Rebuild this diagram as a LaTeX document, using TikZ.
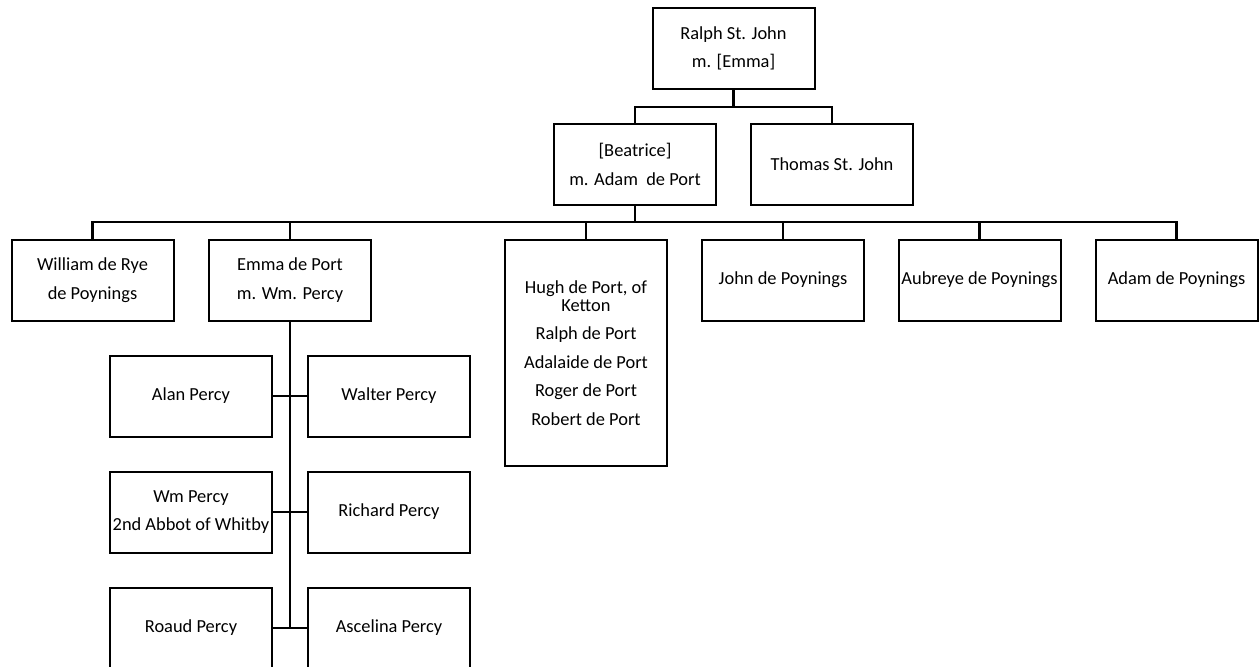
\documentclass[tikz,border=0pt]{standalone}
\usepackage{fontspec}
\setmainfont{Carlito}
\begin{document}
\begin{tikzpicture}[x=1pt,y=-1pt,
  person/.style={draw, line width=2pt, minimum width=162pt, minimum height=81pt,
    inner sep=1pt, align=center, font=\fontsize{18.4}{28.5}\selectfont},
  bus/.style={line width=2.4pt},
  branch/.style={line width=2pt}]
\useasboundingbox (0,0) rectangle (1259,667);
\clip (0,0) rectangle (1259,667);

% generation 1 and 2
\node[person] (ralph) at (733.5,48.5) {Ralph St. John\\m. [Emma]};
\node[person] (beatrice) at (635,164.5) {[Beatrice]\\m. Adam\ \ de Port};
\node[person] (thomas) at (832,164.5) {Thomas St. John};

% generation 3
\node[person] (william) at (92.5,280) {William de Rye\\de Poynings};
\node[person] (emma) at (290,280) {Emma de Port\\m. Wm. Percy};
\node[person, minimum height=226pt] (hugh) at (586,353)
  {Hugh de Port, of\\[-10.5pt]Ketton\\Ralph de Port\\Adalaide de Port\\Roger de Port\\Robert de Port};
\node[person] (john) at (783,280) {John de Poynings};
\node[person] (aubreye) at (979.5,280) {Aubreye de Poynings};
\node[person] (adam) at (1176.5,280) {Adam de Poynings};

% children of Emma de Port
\node[person] (alan) at (191,396) {Alan Percy};
\node[person] (walter) at (389,396) {Walter Percy};
\node[person] (wm) at (191,512) {Wm Percy\\2nd Abbot of Whitby};
\node[person] (richard) at (389,512) {Richard Percy};
\node[person] (roaud) at (191,628) {Roaud Percy};
\node[person] (ascelina) at (389,628) {Ascelina Percy};

% bus levels
\coordinate (busA) at (0,107);
\coordinate (busB) at (0,222);

% Ralph's children
\draw[bus] (ralph.south) -- (ralph.south |- busA);
\draw[bus] (beatrice.north) -- (beatrice.north |- busA) -| (thomas.north);

% Beatrice's children
\draw[bus] (beatrice.south) -- (beatrice.south |- busB);
\draw[bus] (william.north) -- (william.north |- busB) -| (adam.north);
\foreach \c in {emma,hugh,john,aubreye}
  \draw[bus] (\c.north) -- (\c.north |- busB);

% Emma's children
\draw[bus] (emma.south) -- (emma.south |- roaud.east);
\draw[branch] (alan.east) -- (walter.west);
\draw[branch] (wm.east) -- (richard.west);
\draw[branch] (roaud.east) -- (ascelina.west);
\end{tikzpicture}
\end{document}
